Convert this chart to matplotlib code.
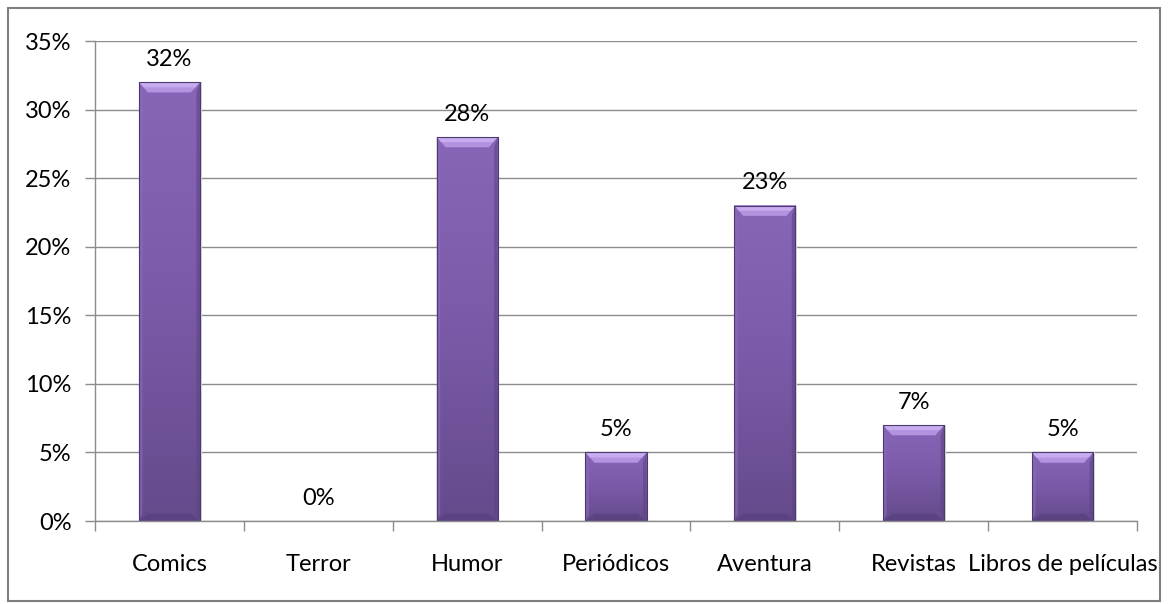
import numpy as np
import matplotlib.pyplot as plt
from matplotlib.patches import Rectangle, Polygon
from matplotlib.colors import LinearSegmentedColormap
from matplotlib.ticker import FuncFormatter

# datos
categorias = ['Comics', 'Terror', 'Humor', 'Periódicos', 'Aventura', 'Revistas', 'Libros de películas']
valores = [0.32, 0.00, 0.28, 0.05, 0.23, 0.07, 0.05]
etiquetas = ['32%', '0%', '28%', '5%', '23%', '7%', '5%']

plt.rcParams['font.family'] = ['Lato', 'DejaVu Sans']
fs = 17

fig = plt.figure(figsize=(11.72, 6.04), dpi=100)
ax = fig.add_axes([0.0811, 0.1374, 0.889, 0.7947])

x = np.arange(len(categorias))
ancho = 0.41
grad = LinearSegmentedColormap.from_list('morado', ['#654a8b', '#7a5aa8', '#8766b8'])
g = np.linspace(0, 1, 256).reshape(-1, 1)

# bisel (en unidades de datos)
bx, by = 0.06, 0.0075
for xi, v in zip(x, valores):
    if v <= 0:
        continue
    x0, x1 = xi - ancho / 2, xi + ancho / 2
    ax.imshow(g, cmap=grad, origin='lower', extent=[x0, x1, 0, v],
              aspect='auto', zorder=3, interpolation='bilinear')
    # sombra derecha
    ax.add_patch(Rectangle((x1, 0), 0.012, v, color='#d9d9d9', lw=0, zorder=2))
    # arriba (claro)
    ax.add_patch(Polygon([(x0, v), (x1, v), (x1 - bx, v - by), (x0 + bx, v - by)],
                         closed=True, color='#b393e0', lw=0, zorder=4))
    ax.add_patch(Polygon([(x0, v), (x1, v), (x1 - bx * 0.5, v - by * 0.5), (x0 + bx * 0.5, v - by * 0.5)],
                         closed=True, color='#c7abef', lw=0, zorder=4))
    # abajo (oscuro)
    ax.add_patch(Polygon([(x0, 0), (x1, 0), (x1 - bx, by * 0.7), (x0 + bx, by * 0.7)],
                         closed=True, color='#5b4280', lw=0, zorder=4))
    # lados
    ax.add_patch(Polygon([(x0, 0), (x0, v), (x0 + bx * 0.4, v - by), (x0 + bx * 0.4, by * 0.7)],
                         closed=True, color='#8a6bbb', alpha=0.6, lw=0, zorder=4))
    ax.add_patch(Polygon([(x1, 0), (x1, v), (x1 - bx * 0.4, v - by), (x1 - bx * 0.4, by * 0.7)],
                         closed=True, color='#5e4484', alpha=0.6, lw=0, zorder=4))
    ax.add_patch(Rectangle((x0, 0), ancho, v, fill=False, edgecolor='#4e3870',
                           lw=0.8, zorder=5))

for xi, v, t in zip(x, valores, etiquetas):
    ax.annotate(t, (xi, v), xytext=(0, 9), textcoords='offset points',
                ha='center', va='bottom', fontsize=fs, color='black')

ax.set_xlim(-0.5, len(categorias) - 0.5)
ax.set_ylim(0, 0.35)
ax.set_yticks(np.arange(0, 0.351, 0.05))
ax.yaxis.set_major_formatter(FuncFormatter(lambda v, p: f'{v*100:.0f}%'))
ax.grid(axis='y', color='#8c8c8c', linewidth=1.0, zorder=0)
ax.set_axisbelow(True)

ax.set_xticks(x)
ax.set_xticklabels(categorias)
ax.set_xticks(np.arange(-0.5, len(categorias)), minor=True)
ax.tick_params(axis='x', which='major', length=0, pad=24, labelsize=fs)
ax.tick_params(axis='x', which='minor', length=7, color='#8c8c8c', width=1.0)
ax.tick_params(axis='y', length=7, color='#8c8c8c', width=1.0, labelsize=fs, pad=10)

for s in ['top', 'right']:
    ax.spines[s].set_visible(False)
for s in ['left', 'bottom']:
    ax.spines[s].set_color('#8c8c8c')
    ax.spines[s].set_linewidth(1.0)
    ax.spines[s].set_zorder(6)

# marco exterior
marco = Rectangle((8 / 1172, 3 / 604), 1152 / 1172, 593 / 604,
                  transform=fig.transFigure, fill=False,
                  edgecolor='#7f7f7f', linewidth=1.5)
fig.patches.append(marco)
for lab in ax.get_xticklabels():
    lab.set_clip_path(marco)

plt.savefig('out.png', dpi=100)
